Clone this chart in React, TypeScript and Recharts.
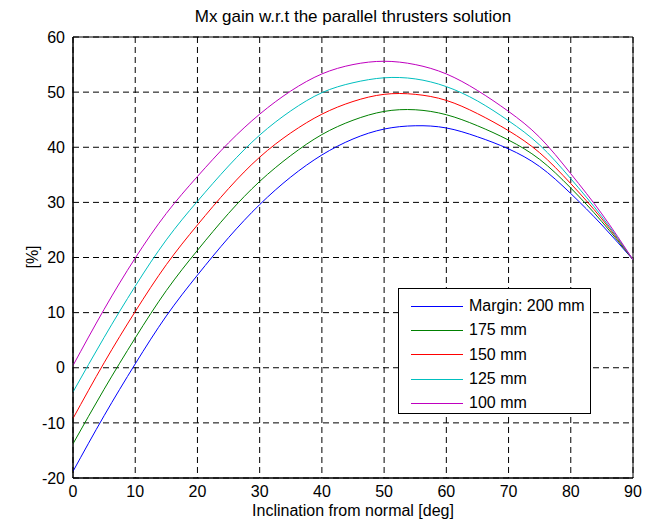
import { LineChart, Line, XAxis, YAxis, CartesianGrid, Legend, ReferenceArea } from 'recharts';

const angles = [0, 5, 10, 15, 20, 25, 30, 35, 40, 45, 50, 55, 60, 65, 70, 75, 80, 85, 90];

const margin200 = [-18.8, -8.7, 0.7, 9.4, 16.8, 23.6, 29.6, 34.6, 38.6, 41.5, 43.3, 43.9, 43.5, 41.9, 39.7, 36.5, 31.6, 25.9, 19.6];
const margin175 = [-13.8, -3.9, 5.4, 14.0, 21.3, 28.0, 33.8, 38.5, 42.3, 44.9, 46.5, 46.8, 45.9, 43.9, 41.3, 37.8, 32.6, 26.5, 19.6];
const margin150 = [-9.2, 0.9, 10.2, 18.7, 25.9, 32.5, 38.2, 42.6, 46.0, 48.3, 49.6, 49.6, 48.5, 46.1, 43.0, 39.0, 33.4, 27.0, 19.6];
const margin125 = [-4.4, 5.5, 14.8, 23.2, 30.2, 36.6, 42.2, 46.6, 49.9, 51.7, 52.6, 52.4, 51.0, 48.4, 44.8, 40.4, 34.3, 27.4, 19.6];
const margin100 = [0.4, 10.6, 19.9, 28.0, 34.7, 40.8, 46.0, 50.2, 53.3, 55.0, 55.6, 55.0, 53.3, 50.3, 46.5, 41.8, 35.2, 27.9, 19.6];

const xTicks = [0, 10, 20, 30, 40, 50, 60, 70, 80, 90];
const yTicks = [-20, -10, 0, 10, 20, 30, 40, 50, 60];

const series = [
  { key: 'm200', name: 'Margin: 200 mm', color: '#0000ff' },
  { key: 'm175', name: '175 mm', color: '#008000' },
  { key: 'm150', name: '150 mm', color: '#ff0000' },
  { key: 'm125', name: '125 mm', color: '#00bfbf' },
  { key: 'm100', name: '100 mm', color: '#bf00bf' },
];

const data = angles.map((angle, i) => ({
  angle,
  m200: margin200[i],
  m175: margin175[i],
  m150: margin150[i],
  m125: margin125[i],
  m100: margin100[i],
}));

const font = '"Liberation Sans", Arial, sans-serif';

const renderLegend = () => (
  <div
    style={{
      width: 193,
      height: 126,
      boxSizing: 'border-box',
      border: '1px solid #000',
      background: '#fff',
      paddingTop: 5,
      fontFamily: font,
      fontSize: 16,
      color: '#000',
    }}
  >
    {series.map((s) => (
      <div key={s.key} style={{ display: 'flex', alignItems: 'center', height: 24.3 }}>
        <div style={{ marginLeft: 12, width: 52, height: 0, borderTop: `1.5px solid ${s.color}` }} />
        <span style={{ marginLeft: 6 }}>{s.name}</span>
      </div>
    ))}
  </div>
);

const App = () => {
  return (
    <div style={{ position: 'absolute', left: 0, top: 0, width: 654, height: 522, background: '#fff', fontFamily: font }}>
      <div style={{ position: 'absolute', left: 73, width: 560, top: 7, textAlign: 'center', fontSize: 17, color: '#000' }}>
        Mx gain w.r.t the parallel thrusters solution
      </div>
      <LineChart width={654} height={522} data={data} margin={{ top: 37, right: 21, bottom: 0, left: 0 }}>
        <CartesianGrid stroke="#000" strokeDasharray="6 4" />
        <XAxis
          type="number"
          dataKey="angle"
          domain={[0, 90]}
          ticks={xTicks}
          height={44}
          tickLine={false}
          axisLine={{ stroke: '#000' }}
          tick={{ fill: '#000', fontSize: 16, fontFamily: font }}
          tickSize={6}
          tickMargin={2}
          allowDataOverflow
        />
        <YAxis
          type="number"
          domain={[-20, 60]}
          ticks={yTicks}
          width={73}
          tickLine={false}
          axisLine={{ stroke: '#000' }}
          tick={{ fill: '#000', fontSize: 16, fontFamily: font }}
          tickSize={6}
          tickMargin={2}
          allowDataOverflow
        />
        <ReferenceArea x1={0} x2={90} y1={-20} y2={60} fill="none" stroke="#000" strokeWidth={1} />
        {series.map((s) => (
          <Line
            key={s.key}
            type="natural"
            dataKey={s.key}
            name={s.name}
            stroke={s.color}
            strokeWidth={1}
            dot={false}
            isAnimationActive={false}
          />
        ))}
        <Legend
          layout="horizontal"
          verticalAlign="middle"
          align="center"
          content={renderLegend}
          wrapperStyle={{ position: 'absolute', left: 398, top: 288, width: 193, height: 126 }}
        />
      </LineChart>
      <div style={{ position: 'absolute', left: 73, width: 560, top: 502, textAlign: 'center', fontSize: 16, color: '#000' }}>
        Inclination from normal [deg]
      </div>
      <div
        style={{
          position: 'absolute',
          left: 33,
          top: 257,
          transform: 'translate(-50%, -50%) rotate(-90deg)',
          fontSize: 16,
          color: '#000',
          whiteSpace: 'nowrap',
        }}
      >
        [%]
      </div>
    </div>
  );
};

export default App;
